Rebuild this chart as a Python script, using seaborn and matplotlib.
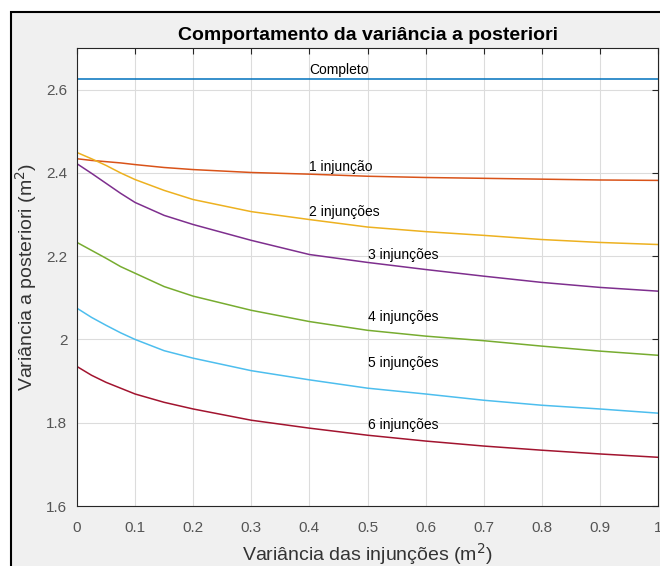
import numpy as np
import pandas as pd
import matplotlib
matplotlib.use("Agg")
import matplotlib.pyplot as plt
import seaborn as sns
from matplotlib.patches import Rectangle
from matplotlib.ticker import FuncFormatter

# valores
x_vals = [0, 0.025, 0.05, 0.075, 0.1, 0.15, 0.2, 0.3, 0.4, 0.5, 0.6, 0.7, 0.8, 0.9, 1.0]
completo = [2.626] * len(x_vals)
inj1 = [2.434, 2.430, 2.427, 2.424, 2.420, 2.413, 2.408, 2.401, 2.397, 2.392, 2.389, 2.387, 2.385, 2.383, 2.382]
inj2 = [2.449, 2.434, 2.418, 2.400, 2.384, 2.358, 2.336, 2.307, 2.288, 2.270, 2.259, 2.250, 2.240, 2.233, 2.228]
inj3 = [2.422, 2.399, 2.375, 2.351, 2.329, 2.298, 2.276, 2.238, 2.204, 2.185, 2.168, 2.152, 2.137, 2.125, 2.116]
inj4 = [2.233, 2.214, 2.195, 2.175, 2.159, 2.127, 2.104, 2.070, 2.043, 2.022, 2.008, 1.997, 1.984, 1.972, 1.962]
inj5 = [2.075, 2.053, 2.034, 2.016, 2.000, 1.973, 1.955, 1.925, 1.903, 1.883, 1.869, 1.854, 1.842, 1.833, 1.823]
inj6 = [1.935, 1.914, 1.897, 1.883, 1.869, 1.849, 1.833, 1.806, 1.787, 1.770, 1.756, 1.744, 1.734, 1.725, 1.717]

series_names = ["Completo", "1 injunção", "2 injunções", "3 injunções",
                "4 injunções", "5 injunções", "6 injunções"]
series_vals = [completo, inj1, inj2, inj3, inj4, inj5, inj6]
colors = ["#0072BD", "#D95319", "#EDB120", "#7E2F8E", "#77AC30", "#4DBEEE", "#A2142F"]

# posicoes dos rotulos (x, y)
label_x = [0.4, 0.4, 0.4, 0.5, 0.5, 0.5, 0.5]
label_y = [2.646, 2.415, 2.305, 2.204, 2.053, 1.943, 1.794]

df = pd.DataFrame({
    "x": np.tile(x_vals, len(series_names)),
    "y": np.concatenate(series_vals),
    "serie": np.repeat(series_names, len(x_vals)),
})

sns.set_style("white")
plt.rcParams['font.family'] = ['Liberation Sans', 'DejaVu Sans']

fig = plt.figure(figsize=(6.6, 5.66), dpi=100)
fig.patch.set_facecolor("white")
# fundo cinza com borda preta (estilo figura do MATLAB)
fig.patches.append(Rectangle((11 / 660, -0.05), 1.1, 1 - 12 / 566 + 0.05,
                             transform=fig.transFigure, facecolor="#f0f0f0",
                             edgecolor="black", linewidth=1.5, zorder=-10))

ax = fig.add_axes([77 / 660, 1 - 506 / 566, (658 - 77) / 660, (506 - 48) / 566])
ax.set_facecolor("white")

sns.lineplot(data=df, x="x", y="y", hue="serie", palette=colors,
             hue_order=series_names, linewidth=1.1, legend=False, ax=ax)

for name, tx, ty in zip(series_names, label_x, label_y):
    ax.text(tx, ty, name, ha="left", va="center", fontsize=10, color="black")

ax.set_xlim(0, 1)
ax.set_ylim(1.6, 2.7)
ax.set_xticks(np.arange(0, 1.01, 0.1))
ax.set_yticks([1.6, 1.8, 2.0, 2.2, 2.4, 2.6])
fmt = FuncFormatter(lambda v, p: ("%g" % round(v, 2)))
ax.xaxis.set_major_formatter(fmt)
ax.yaxis.set_major_formatter(fmt)
ax.grid(True, color="#dcdcdc", linewidth=0.8)
ax.set_axisbelow(True)
ax.tick_params(direction="in", length=4, width=0.8, colors="#262626",
               labelsize=11, top=True, right=True, labelcolor="#555555", pad=7)
ax.tick_params(axis="x", pad=11)
for s in ax.spines.values():
    s.set_color("#262626")
    s.set_linewidth(0.8)

ax.set_xlabel("Variância das injunções (m$^2$)", fontsize=14, color="#333333", labelpad=4)
ax.set_ylabel("Variância a posteriori (m$^2$)", fontsize=14, color="#333333", labelpad=5)
ax.set_title("Comportamento da variância a posteriori", fontsize=14,
             fontweight="bold", color="black", pad=6)

fig.savefig("out.png", dpi=100, facecolor=fig.get_facecolor())
